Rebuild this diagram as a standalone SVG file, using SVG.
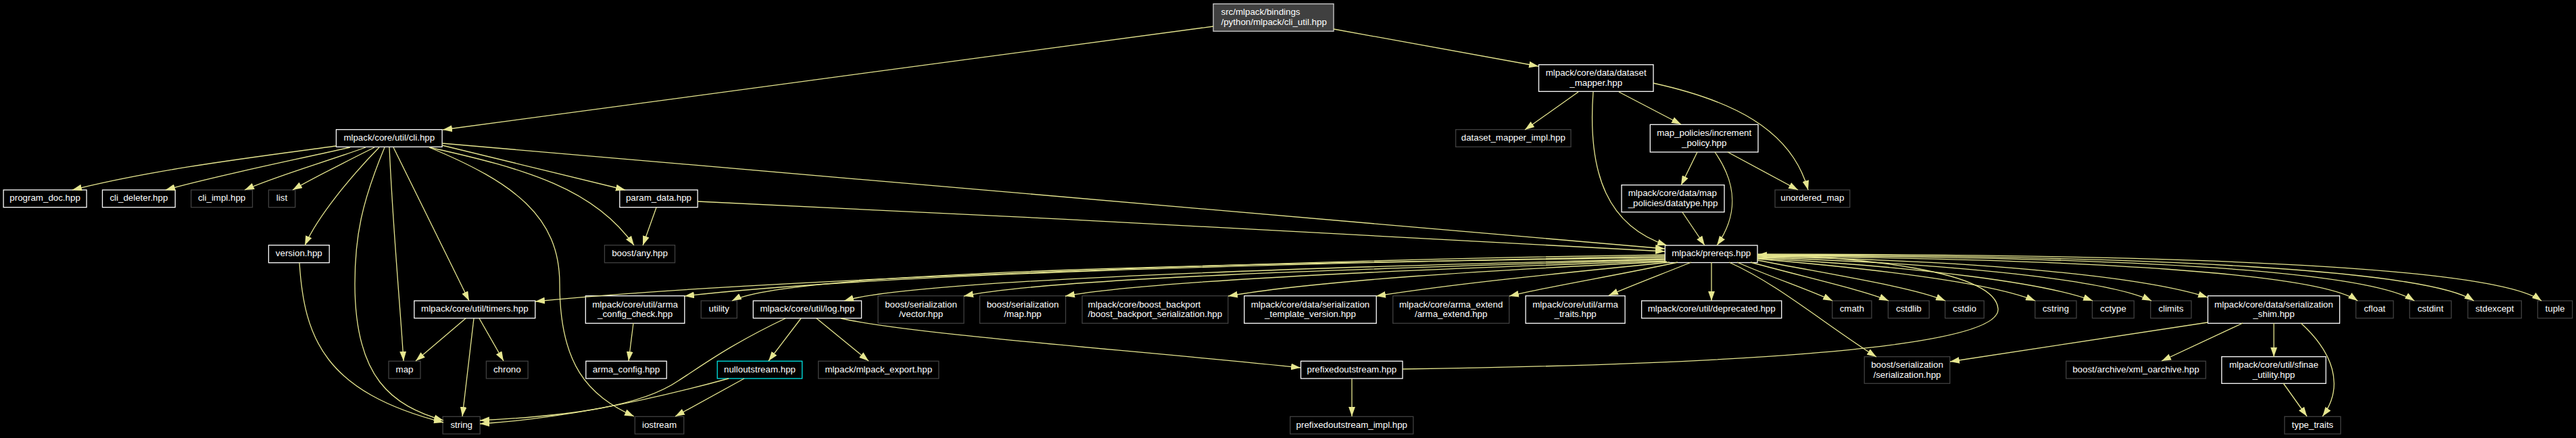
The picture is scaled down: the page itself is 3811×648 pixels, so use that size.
<svg xmlns="http://www.w3.org/2000/svg" width="3811" height="648" viewBox="0 0 3811 648">
<defs>
<style>
.n rect{fill:#000;stroke:#fff;stroke-width:1.3}
.n.x rect{stroke:#404040}
.n.r rect{fill:#404040;stroke:#d0d0d0}
.n.c rect{stroke:#00e5e5}
.n text{font-family:"Liberation Sans",Arial,sans-serif;font-size:13.33px;fill:#fff;text-anchor:middle}
.n text.l{text-anchor:start}
#edges path{fill:none;stroke:#e6e68f;stroke-width:1.3;marker-end:url(#a)}
</style>
<marker id="a" markerUnits="userSpaceOnUse" markerWidth="14" markerHeight="10" refX="13.3" refY="4.67" orient="auto" viewBox="0 0 13.3 9.33"><path d="M0,0L13.3,4.67L0,9.33z" fill="#e6e68f"/></marker>
</defs>
<rect width="3811" height="648" fill="#000"/>
<g id="nodes">
<g id="root" class="n r"><rect x="1795" y="5.7" width="178" height="40.5"/><text class="l" x="1806.5" y="22.4">src/mlpack/bindings</text><text class="l" x="1806.5" y="36.9">/python/mlpack/cli_util.hpp</text></g>
<g id="dm" class="n"><rect x="2276.5" y="95.7" width="169.5" height="39.6"/><text x="2361.2" y="112">mlpack/core/data/dataset</text><text x="2361.2" y="126.5">_mapper.hpp</text></g>
<g id="dmi" class="n x"><rect x="2153.6" y="191.7" width="170.4" height="25.6"/><text x="2238.8" y="208">dataset_mapper_impl.hpp</text></g>
<g id="inc" class="n"><rect x="2441.3" y="184.3" width="159.7" height="40.7"/><text x="2521.2" y="201.2">map_policies/increment</text><text x="2521.2" y="215.7">_policy.hpp</text></g>
<g id="um" class="n x"><rect x="2626" y="281" width="110.7" height="25.7"/><text x="2681.3" y="297.4">unordered_map</text></g>
<g id="dt" class="n"><rect x="2399" y="273.7" width="152" height="40"/><text class="l" x="2408.7" y="290.2">mlpack/core/data/map</text><text x="2475" y="304.7">_policies/datatype.hpp</text></g>
<g id="pre" class="n"><rect x="2463.3" y="363" width="136.7" height="25.5"/><text x="2531.7" y="379.3">mlpack/prereqs.hpp</text></g>
<g id="cli" class="n"><rect x="497.4" y="191.7" width="156.7" height="25.6"/><text x="575.8" y="208">mlpack/core/util/cli.hpp</text></g>
<g id="pdoc" class="n"><rect x="5.1" y="281" width="123" height="25.7"/><text x="66.6" y="297.4">program_doc.hpp</text></g>
<g id="clid" class="n"><rect x="151.5" y="281" width="107.7" height="25.7"/><text x="205.4" y="297.4">cli_deleter.hpp</text></g>
<g id="clii" class="n x"><rect x="282.7" y="281" width="90.8" height="25.7"/><text x="328.1" y="297.4">cli_impl.hpp</text></g>
<g id="list" class="n x"><rect x="397.4" y="281" width="39.3" height="25.7"/><text x="417" y="297.4">list</text></g>
<g id="ver" class="n"><rect x="397.4" y="362.7" width="89.8" height="26"/><text x="442.3" y="379.2">version.hpp</text></g>
<g id="tim" class="n"><rect x="612.8" y="445" width="179" height="25.7"/><text x="702.3" y="461.4">mlpack/core/util/timers.hpp</text></g>
<g id="map" class="n x"><rect x="575" y="534.3" width="47" height="25.7"/><text x="598.5" y="550.7">map</text></g>
<g id="chrono" class="n x"><rect x="719.4" y="534.3" width="61.7" height="25.7"/><text x="750.3" y="550.7">chrono</text></g>
<g id="string" class="n x"><rect x="655.1" y="616.3" width="55.1" height="25.7"/><text x="682.7" y="632.7">string</text></g>
<g id="pd" class="n"><rect x="916.8" y="281" width="115.3" height="25.7"/><text x="974.5" y="297.4">param_data.hpp</text></g>
<g id="any" class="n x"><rect x="894.4" y="362.7" width="104.1" height="26"/><text x="946.5" y="379.2">boost/any.hpp</text></g>
<g id="acc" class="n"><rect x="866.3" y="437.7" width="146.5" height="40.6"/><text x="939.6" y="454.5">mlpack/core/util/arma</text><text x="939.6" y="469">_config_check.hpp</text></g>
<g id="util" class="n x"><rect x="1037.2" y="445" width="53.1" height="25.7"/><text x="1063.8" y="461.4">utility</text></g>
<g id="log" class="n"><rect x="1114.3" y="445" width="160.2" height="25.7"/><text x="1194.4" y="461.4">mlpack/core/util/log.hpp</text></g>
<g id="vec" class="n x"><rect x="1299" y="437.7" width="127" height="40.6"/><text x="1362.5" y="454.5">boost/serialization</text><text x="1362.5" y="469">/vector.hpp</text></g>
<g id="bmap" class="n x"><rect x="1449.5" y="437.7" width="127" height="40.6"/><text x="1513" y="454.5">boost/serialization</text><text x="1513" y="469">/map.hpp</text></g>
<g id="ac" class="n"><rect x="866.8" y="534.3" width="119.4" height="25.7"/><text x="926.5" y="550.7">arma_config.hpp</text></g>
<g id="null" class="n c"><rect x="1061.2" y="534.3" width="125.5" height="25.7"/><text x="1124" y="550.7">nulloutstream.hpp</text></g>
<g id="exp" class="n x"><rect x="1210.7" y="534.3" width="178.1" height="25.7"/><text x="1299.8" y="550.7">mlpack/mlpack_export.hpp</text></g>
<g id="ios" class="n x"><rect x="939.3" y="616.3" width="72.4" height="25.7"/><text x="975.5" y="632.7">iostream</text></g>
<g id="bb" class="n x"><rect x="1601" y="437.7" width="215.8" height="40.6"/><text class="l" x="1609.6" y="454.5">mlpack/core/boost_backport</text><text x="1708.9" y="469">/boost_backport_serialization.hpp</text></g>
<g id="tv" class="n"><rect x="1840.8" y="437.7" width="195.4" height="40.6"/><text x="1938.5" y="454.5">mlpack/core/data/serialization</text><text x="1938.5" y="469">_template_version.hpp</text></g>
<g id="ae" class="n x"><rect x="2060.7" y="437.7" width="172" height="40.6"/><text x="2146.7" y="454.5">mlpack/core/arma_extend</text><text x="2146.7" y="469">/arma_extend.hpp</text></g>
<g id="at" class="n"><rect x="2257.1" y="437.7" width="147" height="40.6"/><text x="2330.6" y="454.5">mlpack/core/util/arma</text><text x="2330.6" y="469">_traits.hpp</text></g>
<g id="pos" class="n"><rect x="1924.5" y="534.3" width="150.5" height="25.7"/><text x="1999.8" y="550.7">prefixedoutstream.hpp</text></g>
<g id="posi" class="n x"><rect x="1908.7" y="616.3" width="182.1" height="25.7"/><text x="1999.8" y="632.7">prefixedoutstream_impl.hpp</text></g>
<g id="dep" class="n"><rect x="2428.6" y="445" width="207.1" height="25.7"/><text x="2532.2" y="461.4">mlpack/core/util/deprecated.hpp</text></g>
<g id="cmath" class="n x"><rect x="2710.7" y="445" width="58.2" height="25.7"/><text x="2739.8" y="461.4">cmath</text></g>
<g id="cstdlib" class="n x"><rect x="2793.4" y="445" width="60.7" height="25.7"/><text x="2823.8" y="461.4">cstdlib</text></g>
<g id="cstdio" class="n x"><rect x="2877.6" y="445" width="57.6" height="25.7"/><text x="2906.4" y="461.4">cstdio</text></g>
<g id="cstring" class="n x"><rect x="3010.7" y="445" width="61.2" height="25.7"/><text x="3041.3" y="461.4">cstring</text></g>
<g id="cctype" class="n x"><rect x="3095.4" y="445" width="61.7" height="25.7"/><text x="3126.3" y="461.4">cctype</text></g>
<g id="climits" class="n x"><rect x="3181.6" y="445" width="60.3" height="25.7"/><text x="3211.8" y="461.4">climits</text></g>
<g id="shim" class="n"><rect x="3266.4" y="437.7" width="195" height="40.6"/><text x="3363.9" y="454.5">mlpack/core/data/serialization</text><text x="3363.9" y="469">_shim.hpp</text></g>
<g id="cfloat" class="n x"><rect x="3485.4" y="445" width="55.4" height="25.7"/><text x="3513.1" y="461.4">cfloat</text></g>
<g id="cstdint" class="n x"><rect x="3564.8" y="445" width="61.7" height="25.7"/><text x="3595.7" y="461.4">cstdint</text></g>
<g id="stdexcept" class="n x"><rect x="3651" y="445" width="79.3" height="25.7"/><text x="3690.7" y="461.4">stdexcept</text></g>
<g id="tuple" class="n x"><rect x="3754.3" y="445" width="51.3" height="25.7"/><text x="3780" y="461.4">tuple</text></g>
<g id="ser" class="n x"><rect x="2758.2" y="527.7" width="126.5" height="39.6"/><text x="2821.5" y="544">boost/serialization</text><text x="2821.5" y="558.5">/serialization.hpp</text></g>
<g id="xml" class="n x"><rect x="3056.6" y="534.3" width="206.6" height="25.7"/><text x="3159.9" y="550.7">boost/archive/xml_oarchive.hpp</text></g>
<g id="sfin" class="n"><rect x="3286.8" y="527.7" width="154.2" height="39.6"/><text x="3363.9" y="544">mlpack/core/util/sfinae</text><text x="3363.9" y="558.5">_utility.hpp</text></g>
<g id="tt" class="n x"><rect x="3379.8" y="616.3" width="83" height="25.7"/><text x="3421.3" y="632.7">type_traits</text></g>
</g>
<g id="edges">
<path d="M1795,39 L655,192"/>
<path d="M1973,43 L2276,98"/>
<path d="M2335,136 L2256,192"/>
<path d="M2395,136 L2487,184"/>
<path d="M2446,123 C2560,148 2650,190 2675,281"/>
<path d="M2357,136 C2348,260 2380,335 2466,363"/>
<path d="M2511,225 L2487,274"/>
<path d="M2537,225 C2572,275 2570,320 2540,363"/>
<path d="M2556,225 L2660,281"/>
<path d="M2489,314 L2522,363"/>
<path d="M497,216 C380,232 230,250 107,281"/>
<path d="M518,218 C420,240 320,260 245,281"/>
<path d="M541,218 C480,240 410,260 362,281"/>
<path d="M554,218 C510,240 460,265 433,281"/>
<path d="M561,218 C520,260 470,320 451,363"/>
<path d="M569,218 C535,300 525,350 525,420 C525,560 580,600 656,622"/>
<path d="M576,218 C582,350 592,450 597,534"/>
<path d="M582,218 L694,445"/>
<path d="M654,212 L2463,368"/>
<path d="M654,215 L925,281"/>
<path d="M635,218 C780,250 880,280 938,363"/>
<path d="M635,218 C760,270 828,320 828,420 C828,540 870,585 938,616"/>
<path d="M443,389 C450,500 480,580 656,625"/>
<path d="M689,471 L615,534"/>
<path d="M701,471 L684,616"/>
<path d="M709,471 L745,534"/>
<path d="M971,307 L951,363"/>
<path d="M1032,298 C1500,320 2200,355 2463,372"/>
<path d="M2463,377 C1900,385 1100,415 792,446"/>
<path d="M2463,379 C1900,390 1300,405 1013,438"/>
<path d="M2463,381 C1850,390 1170,400 1083,445"/>
<path d="M2463,383 C1900,396 1350,415 1249,445"/>
<path d="M2463,384 C2000,398 1550,412 1426,438"/>
<path d="M2464,386 C2100,398 1700,415 1576,438"/>
<path d="M2466,387 C2200,400 1950,415 1817,438"/>
<path d="M2470,388 C2300,405 2150,420 2036,438"/>
<path d="M2482,388 C2390,408 2300,422 2233,438"/>
<path d="M2502,388 C2460,405 2420,420 2380,437"/>
<path d="M2532,388 L2532,445"/>
<path d="M2570,388 C2620,410 2680,430 2711,445"/>
<path d="M2590,388 C2670,410 2760,430 2794,445"/>
<path d="M2600,385 C2720,408 2830,425 2878,445"/>
<path d="M2558,388 C2630,420 2700,480 2776,528"/>
<path d="M2075,546 C2500,540 2960,520 2956,457 C2952,400 2750,380 2600,377"/>
<path d="M2600,383 C2800,400 2950,420 3011,445"/>
<path d="M2600,382 C2850,395 3030,420 3096,445"/>
<path d="M2600,381 C2900,390 3120,415 3183,445"/>
<path d="M2600,380 C2950,385 3180,412 3266,440"/>
<path d="M2600,379 C3100,383 3430,405 3488,445"/>
<path d="M2600,378 C3150,380 3500,400 3572,445"/>
<path d="M2600,377 C3200,378 3590,400 3660,445"/>
<path d="M2600,376 C3250,376 3690,395 3760,445"/>
<path d="M3266,477 L2885,535"/>
<path d="M3318,478 L3198,534"/>
<path d="M3364,478 L3364,528"/>
<path d="M3404,478 C3450,520 3470,570 3436,616"/>
<path d="M3378,567 L3413,616"/>
<path d="M1185,471 L1137,534"/>
<path d="M1208,471 L1285,534"/>
<path d="M1162,471 C1080,510 1040,540 1004,563 C950,600 850,615 710,622"/>
<path d="M1078,560 C950,595 820,620 710,627"/>
<path d="M1101,560 L999,616"/>
<path d="M1244,471 C1350,495 1700,520 1924,544"/>
<path d="M937,478 L930,534"/>
<path d="M2000,560 L2000,616"/>
</g>
</svg>
